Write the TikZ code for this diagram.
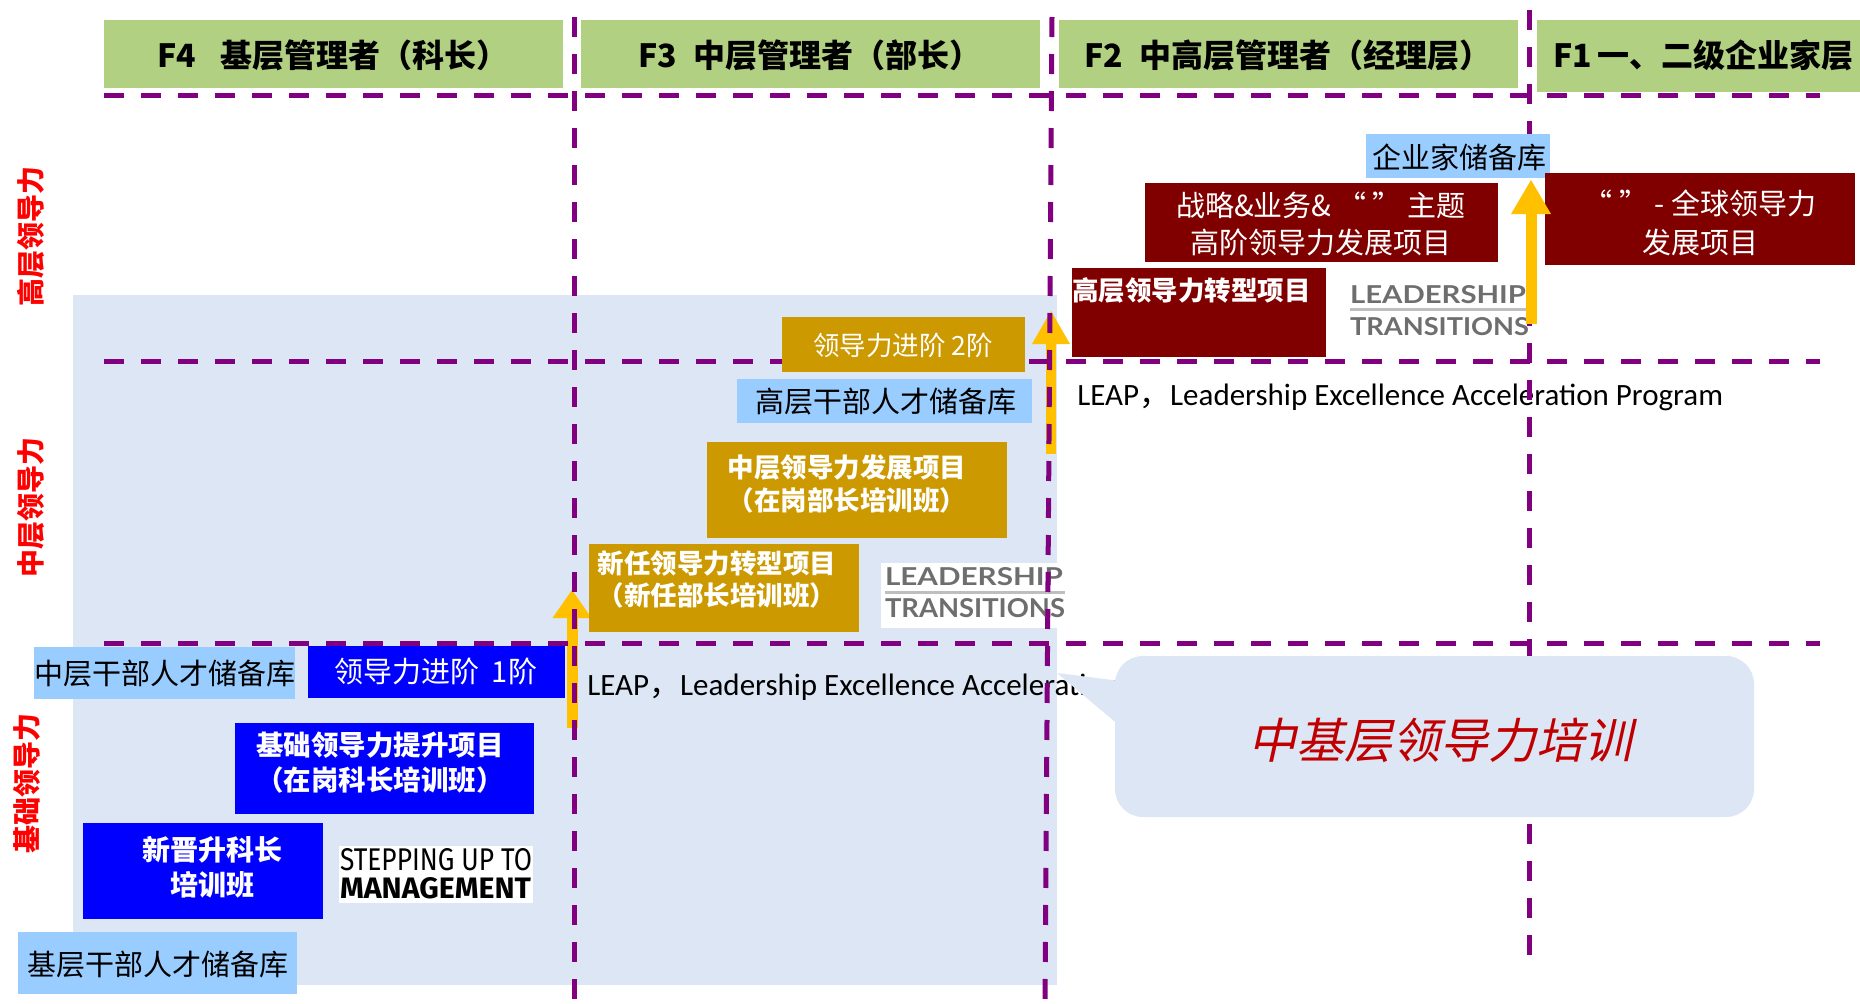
\documentclass[tikz,border=0pt]{standalone}
\usepackage{fontspec}
\usepackage{graphicx}
\usetikzlibrary{arrows.meta}
\setmainfont{Noto Sans CJK SC}
\newfontfamily\cjk{Noto Sans CJK SC}
\newfontfamily\leapfont{Carlito}
\newfontfamily\slfont[FakeSlant=0.22]{Noto Sans CJK SC}
\newfontfamily\logofont{Lato}
\newfontfamily\stepfont{Fira Sans}
\definecolor{hdr}{RGB}{178,208,130}
\definecolor{dred}{RGB}{128,0,0}
\definecolor{gold}{RGB}{204,153,0}
\definecolor{pblue}{RGB}{0,0,255}
\definecolor{lblue}{RGB}{153,204,255}
\definecolor{bgblue}{RGB}{220,230,244}
\definecolor{dpurple}{RGB}{128,0,128}
\definecolor{arr}{RGB}{255,192,0}
\definecolor{lred}{RGB}{255,0,0}
\definecolor{cred}{RGB}{192,0,0}
\definecolor{logogray}{RGB}{110,110,110}
\definecolor{logoline}{RGB}{190,190,190}
\newcommand\bx[6]{\node[boxn, fill=#6, minimum width={(#4-#2)*0.5pt}, minimum height={(#5-#3)*0.5pt}] (#1) at ({(#2+#4)/2},{(#3+#5)/2}) {};}
\tikzset{
  boxn/.style={inner sep=0pt, outer sep=0pt, draw=none},
  txt/.style={inner sep=0pt, outer sep=0pt, align=center},
  dline/.style={draw=dpurple, line width=2.5pt, dash pattern=on 10pt off 8.5pt},
  fhdr/.style={font=\fontsize{16}{16}\selectfont\bfseries},
  freg/.style={font=\fontsize{14.5}{14.5}\selectfont},
  flab/.style={font=\fontsize{14}{14}\selectfont\bfseries, text=lred, rotate=90},
  leaptxt/.style={anchor=base west, inner sep=0pt, font=\leapfont\fontsize{15.5}{15.5}\selectfont},
  logotxt/.style={anchor=north west, inner sep=0pt, outer sep=0pt},
}
\begin{document}
\begin{tikzpicture}[x=0.5pt,y=-0.5pt]
\useasboundingbox (0,0) rectangle (1860,1003);
\fill[white] (0,0) rectangle (1860,1003);
% background region
\bx{bg}{73}{295}{1057}{985}{bgblue}
% arrows under the dashed lines
\coordinate (a2s) at (1051,454);
\coordinate (a2e) at (1051,311);
\coordinate (a3s) at (572,728);
\coordinate (a3e) at (572,590);
\draw[draw=arr, line width=5pt, -{Triangle[width=19pt,length=16.5pt,line width=0pt]}] (a2s) -- (a2e);
\draw[draw=arr, line width=5.5pt, -{Triangle[width=19.5pt,length=14pt,line width=0pt]}] (a3s) -- (a3e);
% logo 2 (under dashed line)
\bx{lg2}{881}{563}{1067}{628}{white}
\node[logotxt, text=logogray] (lg2a) at (885,567) {\resizebox{89pt}{9pt}{\logofont\bfseries LEADERSHIP}};
\draw[logoline, line width=1.5pt] (885,592) -- (1065,592);
\node[logotxt, text=logogray] (lg2b) at (885,598) {\resizebox{90pt}{9.5pt}{\logofont\bfseries TRANSITIONS}};
% LEAP texts
\node[leaptxt] (leap1) at (1077,405) {LEAP{\cjk ，}Leadership Excellence Acceleration Program};
\node[leaptxt] (leap2) at (587,695) {LEAP{\cjk ，}Leadership Excellence Acceleration Program};
% dashed grid
\draw[dline] (104,95) -- (1820,95);
\draw[dline] (104,361) -- (1820,361);
\draw[dline] (104,643) -- (1820,643);
\draw[dline] (574,17) -- (574,1003);
\draw[dline] (1052,17) -- (1045,1003);
\draw[dline] (1529,10) -- (1529,963);
% header
\bx{h4}{104}{20}{563}{88}{hdr}
\bx{h3}{581}{20}{1040}{88}{hdr}
\bx{h2}{1059}{20}{1518}{88}{hdr}
\bx{h1}{1537}{20}{1860}{92}{hdr}
\node[txt, fhdr] (h4t) at (333,55) {F4\hspace{12pt}基层管理者（科长）};
\node[txt, fhdr] (h3t) at (810,55) {F3\hspace{8.5pt}中层管理者（部长）};
\node[txt, fhdr] (h2t) at (1288,55) {F2\hspace{8pt}中高层管理者（经理层）};
\node[txt, fhdr, anchor=west] (h1t) at (1553,55) {F1\hspace{3pt}一、二级企业家层};
% side labels
\node[txt, flab] (lab1) at (30.5,236) {高层领导力};
\node[txt, flab] (lab2) at (31,507) {中层领导力};
\node[txt, flab] (lab3) at (27,783) {基础领导力};
% top boxes
\bx{qy}{1366}{134}{1550}{178}{lblue}
\node[txt, freg] (qyt) at (1459,157) {企业家储备库};
\bx{zl}{1145}{183}{1498}{262}{dred}
\node[txt, text=white, font=\fontsize{14.5}{18.5}\selectfont] (zlt) at (1321,223.5) {战略\&业务\&\hspace{3pt}“ ”\hspace{3pt}主题\\高阶领导力发展项目};
\bx{qq}{1545}{173}{1855}{265}{dred}
\node[txt, text=white, font=\fontsize{14.5}{19.5}\selectfont] (qqt) at (1700,222.5) {“ ” - 全球领导力\\发展项目};
\bx{gz}{1072}{268}{1326}{357}{dred}
\node[txt, text=white, font=\fontsize{13.25}{13.25}\selectfont\bfseries, anchor=west] (gzt) at (1072,290) {高层领导力转型项目};
% logo 1
\node[logotxt, text=logogray] (lg1a) at (1350,285) {\resizebox{88pt}{9pt}{\logofont\bfseries LEADERSHIP}};
\draw[logoline, line width=1.5pt] (1350,309) -- (1529,309);
\node[logotxt, text=logogray] (lg1b) at (1350,317) {\resizebox{89.5pt}{9pt}{\logofont\bfseries TRANSITIONS}};
% middle boxes
\bx{jj2}{782}{317}{1025}{372}{gold}
\node[txt, text=white, font=\fontsize{13.25}{13.25}\selectfont] (jj2t) at (903,345) {领导力进阶 2阶};
\bx{gc}{737}{379}{1032}{423}{lblue}
\node[txt, freg] (gct) at (886,402) {高层干部人才储备库};
\bx{zf}{707}{442}{1007}{538}{gold}
\node[txt, text=white, font=\fontsize{13.25}{16.5}\selectfont\bfseries] (zft) at (847,483.5) {中层领导力发展项目\\（在岗部长培训班）};
\bx{xr}{589}{544}{859}{632}{gold}
\node[txt, text=white, font=\fontsize{13.25}{16}\selectfont\bfseries] (xrt) at (717,579) {新任领导力转型项目\\（新任部长培训班）};
% bottom boxes
\bx{zc}{34}{647}{295}{699}{lblue}
\node[txt, freg] (zct) at (165,674) {中层干部人才储备库};
\bx{jj1}{308}{645.5}{565}{698}{pblue}
\node[txt, freg, text=white] (jj1t) at (436,671) {领导力进阶\hspace{6pt}1阶};
\bx{jc}{235}{723}{534}{814}{pblue}
\node[txt, text=white, font=\fontsize{13.75}{17.5}\selectfont\bfseries] (jct) at (380,762.5) {基础领导力提升项目\\（在岗科长培训班）};
\bx{xj}{83}{823}{323}{919}{pblue}
\node[txt, text=white, font=\fontsize{14}{17.5}\selectfont\bfseries] (xjt) at (212,867.5) {新晋升科长\\培训班};
\bx{st}{339}{846}{533}{903}{white}
\node[logotxt] (sta) at (340,848) {\resizebox{96pt}{11pt}{\stepfont STEPPING UP TO}};
\node[logotxt] (stb) at (340,877) {\resizebox{95.5pt}{10.5pt}{\stepfont\bfseries MANAGEMENT}};
\bx{jb}{18}{932}{297}{994}{lblue}
\node[txt, freg] (jbt) at (158,965) {基层干部人才储备库};
% arrow 1 (over boxes)
\coordinate (a1s) at (1531,324);
\coordinate (a1e) at (1531,180);
\draw[draw=arr, line width=5.5pt, -{Triangle[width=20pt,length=17pt,line width=0pt]}] (a1s) -- (a1e);
% callout
\fill[bgblue] (1057,673) -- (1120,681) -- (1120,726) -- cycle;
\node[boxn, fill=bgblue, rounded corners=14pt, minimum width=319.5pt, minimum height=80.5pt] (co) at (1434.5,736.5) {};
\node[txt, text=cred, font=\slfont\fontsize{24}{24}\selectfont] (cot) at (1440,740) {中基层领导力培训};
\end{tikzpicture}
\end{document}
